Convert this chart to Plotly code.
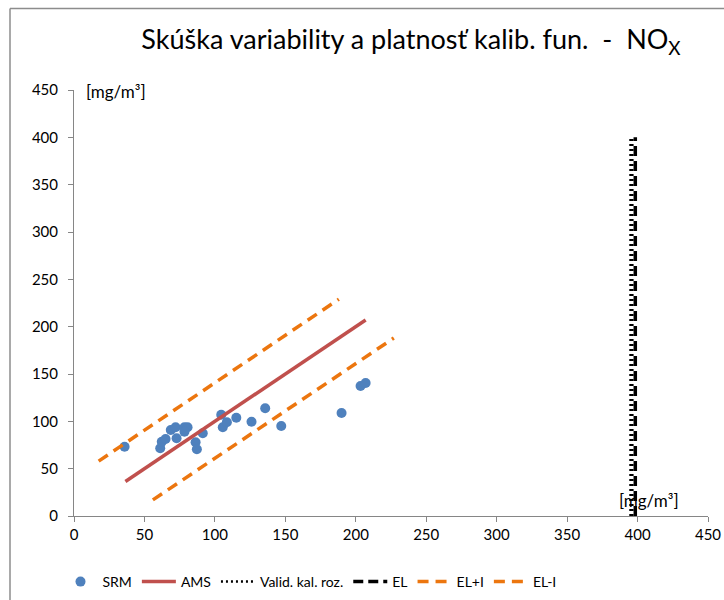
import plotly.graph_objects as go

# Measured (SRM vs AMS) points
srm_x = [35.9, 61.2, 62.3, 65.0, 68.7, 72.1, 72.8, 78.4, 80.6, 78.4, 86.3, 87.2, 91.4,
         104.5, 105.6, 108.5, 115.2, 126.0, 135.7, 147.1, 189.9, 203.4, 207.0]
srm_y = [73.2, 71.5, 78.5, 81.3, 90.8, 93.7, 82.1, 93.7, 93.7, 89.0, 77.9, 70.5, 87.4,
         107.0, 93.7, 99.0, 103.8, 99.6, 113.8, 95.1, 108.8, 137.3, 140.5]

ams_x = [36.5, 207.0]
ams_y = [36.5, 207.0]

valid1_x = [395.0, 395.0]
valid2_x = [396.3, 396.3]
valid_y = [0, 400]

el_x = [398.4, 398.4]
el_y = [0, 400]

elp_x = [17.5, 188.0]
elp_y = [58.0, 229.0]

elm_x = [56.0, 227.0]
elm_y = [17.0, 188.0]

x_ticks = [0, 50, 100, 150, 200, 250, 300, 350, 400, 450]
y_ticks = [0, 50, 100, 150, 200, 250, 300, 350, 400, 450]

ORANGE = "#EC760F"
FONT = "Lato"

fig = go.Figure()
fig.add_trace(go.Scatter(x=srm_x, y=srm_y, mode="markers", name="SRM",
                         marker=dict(color="#4F81BD", size=10, line=dict(width=0))))
fig.add_trace(go.Scatter(x=ams_x, y=ams_y, mode="lines", name="AMS",
                         line=dict(color="#C0504D", width=3.5)))
fig.add_trace(go.Scatter(x=valid1_x, y=valid_y, mode="lines", name="Valid. kal. roz.",
                         legendgroup="v", line=dict(color="black", width=2.5, dash="2px,3px")))
fig.add_trace(go.Scatter(x=valid2_x, y=valid_y, mode="lines", name="Valid. kal. roz.",
                         legendgroup="v", showlegend=False,
                         line=dict(color="black", width=2.5, dash="2px,3px")))
fig.add_trace(go.Scatter(x=el_x, y=el_y, mode="lines", name="EL",
                         line=dict(color="black", width=3.5, dash="10px,5px")))
fig.add_trace(go.Scatter(x=elp_x, y=elp_y, mode="lines", name="EL+I",
                         line=dict(color=ORANGE, width=3.5, dash="11px,7px")))
fig.add_trace(go.Scatter(x=elm_x, y=elm_y, mode="lines", name="EL-I",
                         line=dict(color=ORANGE, width=3.5, dash="11px,7px")))

W, H = 724, 600
L, T = 74, 90
pw, ph = 634, 426
R, B = W - L - pw, H - T - ph

def px_to_paper_x(px):
    return (px - L) / pw

def px_to_paper_y(py):
    return (T + ph - py) / ph

axis_common = dict(showgrid=False, zeroline=False, showline=True, linecolor="#868686",
                   linewidth=1, ticks="outside", ticklen=5, tickcolor="#868686",
                   tickfont=dict(family=FONT, size=15, color="#000"))

fig.update_layout(
    width=W, height=H,
    margin=dict(l=L, r=R, t=T, b=B, autoexpand=False),
    paper_bgcolor="white", plot_bgcolor="white",
    font=dict(family=FONT, color="#000"),
    title=dict(text="Skúška variability a platnosť kalib. fun.  -  NO<sub>X</sub>",
               x=px_to_paper_x(411), xref="paper", xanchor="center",
               y=1 - 40 / H, yanchor="middle",
               font=dict(family=FONT, size=27, color="#000")),
    xaxis=dict(range=[0, 450], tickvals=x_ticks, ticktext=[str(v) for v in x_ticks],
               **axis_common),
    yaxis=dict(range=[0, 450], tickvals=y_ticks, ticktext=[str(v) for v in y_ticks],
               ticklabelstandoff=7, **axis_common),
    legend=dict(orientation="h", x=px_to_paper_x(310), xanchor="center",
                y=px_to_paper_y(582), yanchor="middle",
                font=dict(family=FONT, size=14, color="#000"),
                bgcolor="rgba(0,0,0,0)", itemwidth=34, tracegroupgap=0),
    showlegend=True,
    shapes=[
        dict(type="line", xref="paper", yref="paper",
             x0=px_to_paper_x(10), x1=px_to_paper_x(730),
             y0=px_to_paper_y(8.5), y1=px_to_paper_y(8.5),
             line=dict(color="#8C8C8C", width=1.5)),
        dict(type="line", xref="paper", yref="paper",
             x0=px_to_paper_x(10), x1=px_to_paper_x(10),
             y0=px_to_paper_y(8.5), y1=px_to_paper_y(610),
             line=dict(color="#8C8C8C", width=1.5)),
    ],
    annotations=[
        dict(text="[mg/m³]", xref="paper", yref="paper",
             x=px_to_paper_x(84), y=px_to_paper_y(91), xanchor="left", yanchor="middle",
             showarrow=False, font=dict(family=FONT, size=17, color="#000")),
        dict(text="[mg/m³]", xref="paper", yref="paper",
             x=px_to_paper_x(617), y=px_to_paper_y(500), xanchor="left", yanchor="middle",
             showarrow=False, font=dict(family=FONT, size=17, color="#000")),
    ],
)

fig.write_html("out.html", config={"displayModeBar": False},
               post_script="document.body.style.margin='0';document.body.style.overflow='hidden';")
